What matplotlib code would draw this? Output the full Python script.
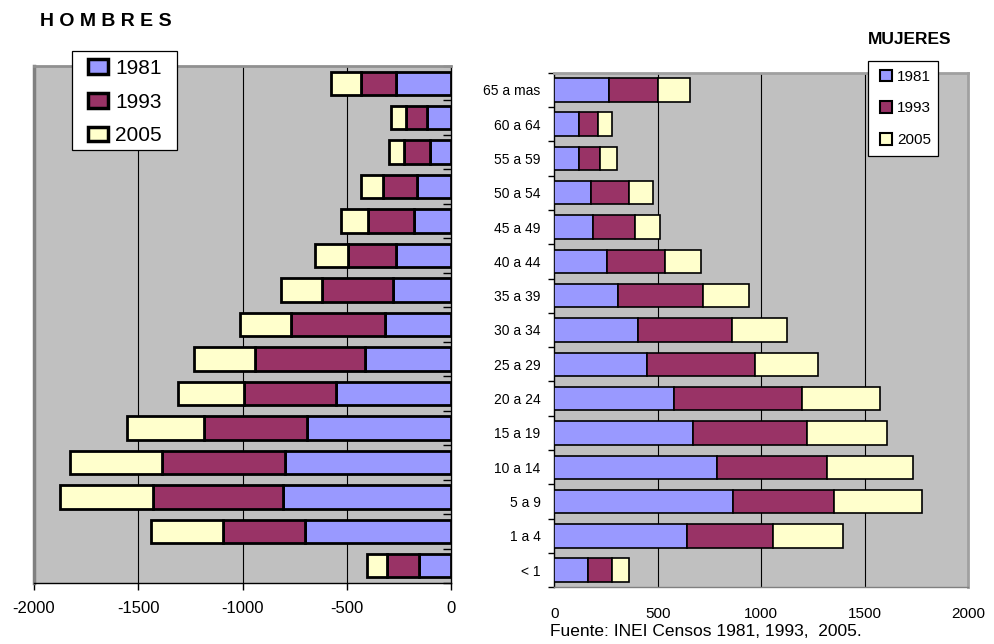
import numpy as np
import matplotlib
matplotlib.use("Agg")
import matplotlib.pyplot as plt
from matplotlib.patches import Rectangle

# ---- data ---------------------------------------------------------------
grupos = ["65 a mas", "60 a 64", "55 a 59", "50 a 54", "45 a 49", "40 a 44",
          "35 a 39", "30 a 34", "25 a 29", "20 a 24", "15 a 19", "10 a 14",
          "5 a 9", "1 a 4", "< 1"]
anios = ["1981", "1993", "2005"]

hombres_1981 = [264, 115, 104, 165, 181, 264, 280, 320, 416, 555, 693, 800, 808, 704, 155]
hombres_1993 = [171, 104, 123, 163, 219, 232, 339, 448, 525, 440, 491, 587, 624, 392, 152]
hombres_2005 = [144, 72, 72, 107, 128, 160, 197, 244, 294, 317, 371, 440, 444, 344, 96]

mujeres_1981 = [264, 119, 119, 177, 188, 256, 309, 406, 449, 578, 671, 784, 865, 639, 161]
mujeres_1993 = [235, 94, 102, 185, 200, 279, 408, 451, 520, 617, 548, 532, 486, 416, 116]
mujeres_2005 = [156, 64, 80, 113, 122, 174, 225, 269, 303, 378, 390, 415, 424, 338, 85]

ticks_h = [-2000, -1500, -1000, -500, 0]
ticks_m = [0, 500, 1000, 1500, 2000]

# ---- style --------------------------------------------------------------
AZUL = "#9999FF"
VINO = "#993366"
CREMA = "#FFFFCC"
FONDO = "#C0C0C0"
COLORES = [AZUL, VINO, CREMA]
SANS = ["Liberation Sans", "DejaVu Sans"]
plt.rcParams["font.family"] = SANS
plt.rcParams["axes.unicode_minus"] = False

W, H = 995, 644
fig = plt.figure(figsize=(W / 100, H / 100), dpi=100)
fig.patch.set_facecolor("white")

n = len(grupos)
y = np.arange(n)
bh = 0.68


def px(x0, y0, x1, y1):
    # pixel box (top-left origin) -> figure fraction rect
    return [x0 / W, 1 - y1 / H, (x1 - x0) / W, (y1 - y0) / H]


def marco(x0, y0, x1, y1):
    r = px(x0, y0, x1, y1)
    fig.patches.append(Rectangle((r[0], r[1]), r[2], r[3], transform=fig.transFigure,
                                 facecolor="white", edgecolor="black", lw=0.9,
                                 zorder=5))


# ---- HOMBRES (left) -----------------------------------------------------
axh = fig.add_axes(px(34, 66, 451.5, 583))
axh.set_facecolor(FONDO)
hs = [np.array(hombres_1981), np.array(hombres_1993), np.array(hombres_2005)]
left = np.zeros(n)
for vals, c, lab in zip(hs, COLORES, anios):
    axh.barh(y, -vals, left=left, height=bh, color=c, edgecolor="black",
             linewidth=2.0, label=lab, zorder=3)
    left = left - vals
axh.set_xlim(-2000, 0)
axh.set_ylim(n - 0.5, -0.5)
axh.set_xticks(ticks_h)
axh.set_xticklabels([str(t) for t in ticks_h], fontsize=12)
for t in ticks_h[1:-1]:
    axh.axvline(t, color="black", lw=0.8, zorder=1)
axh.yaxis.tick_right()
axh.set_yticks(y)
axh.set_yticklabels([])
axh.tick_params(axis="y", which="major", length=0)
axh.set_yticks(np.arange(n + 1) - 0.5, minor=True)
axh.tick_params(axis="y", which="minor", direction="in", length=6, width=1,
                right=True, left=False)
axh.tick_params(axis="x", length=5, width=1, pad=8)
axh.spines["left"].set_color("#808080")
axh.spines["left"].set_linewidth(2.5)
axh.spines["top"].set_color("#909090")
axh.spines["top"].set_linewidth(2)
axh.spines["right"].set_linewidth(1)
axh.spines["bottom"].set_linewidth(1)

fig.text(40 / W, 1 - 22 / H, "H O M B R E S", fontsize=14, weight="bold",
         va="center", ha="left")

marco(72, 51, 177, 150)
legh = fig.legend(*axh.get_legend_handles_labels(), loc="upper left",
                  bbox_to_anchor=(88 / W, 1 - 59 / H), fontsize=15,
                  frameon=False, handlelength=0.95, handleheight=0.7,
                  handletextpad=0.35, labelspacing=0.7, borderpad=0,
                  borderaxespad=0)
legh.set_zorder(6)
for p in legh.get_patches():
    p.set_linewidth(2.5)

# ---- MUJERES (right) ----------------------------------------------------
axm = fig.add_axes(px(554.3, 72.7, 968.3, 587.3))
axm.set_facecolor(FONDO)
ms = [np.array(mujeres_1981), np.array(mujeres_1993), np.array(mujeres_2005)]
left = np.zeros(n)
for vals, c, lab in zip(ms, COLORES, anios):
    axm.barh(y, vals, left=left, height=bh, color=c, edgecolor="black",
             linewidth=1.2, label=lab, zorder=3)
    left = left + vals
axm.set_xlim(0, 2000)
axm.set_ylim(n - 0.5, -0.5)
axm.set_xticks(ticks_m)
axm.set_xticklabels([str(t) for t in ticks_m], fontsize=11)
for t in ticks_m[1:-1]:
    axm.axvline(t, color="black", lw=0.8, zorder=1)
axm.set_yticks(y)
axm.set_yticklabels(grupos, fontsize=10)
axm.tick_params(axis="y", which="major", length=0, pad=10)
axm.set_yticks(np.arange(n + 1) - 0.5, minor=True)
axm.tick_params(axis="y", which="minor", direction="out", length=4, width=1)
axm.tick_params(axis="x", length=0, pad=14)
axm.spines["top"].set_color("#A0A0A0")
axm.spines["top"].set_linewidth(2)
axm.spines["right"].set_color("#A0A0A0")
axm.spines["right"].set_linewidth(2)
axm.spines["left"].set_linewidth(1)
axm.spines["bottom"].set_color("#808080")
axm.spines["bottom"].set_linewidth(1)

fig.text(868 / W, 1 - 40 / H, "MUJERES", fontsize=12.5, weight="bold",
         va="center", ha="left")

marco(867.7, 60.7, 937.7, 156)
legm = fig.legend(*axm.get_legend_handles_labels(), loc="upper left",
                  bbox_to_anchor=(880 / W, 1 - 69.5 / H), fontsize=11,
                  frameon=False, handlelength=0.8, handleheight=0.8,
                  handletextpad=0.3, labelspacing=1.15, borderpad=0,
                  borderaxespad=0)
legm.set_zorder(6)
for p in legm.get_patches():
    p.set_linewidth(1.5)

fig.text(550 / W, 1 - 632 / H, "Fuente: INEI Censos 1981, 1993,  2005.",
         fontsize=12.5, va="center", ha="left")

fig.savefig("out.png", dpi=100, facecolor="white")
